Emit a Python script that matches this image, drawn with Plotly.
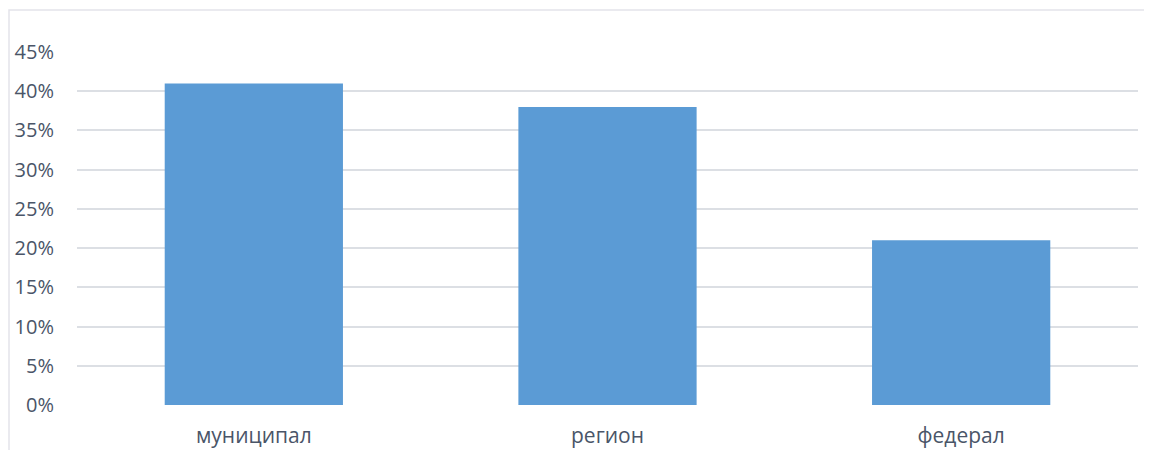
import plotly.graph_objects as go

categories = ["муниципал", "регион", "федерал"]
values = [0.41, 0.38, 0.21]
tick_vals = [0, 0.05, 0.10, 0.15, 0.20, 0.25, 0.30, 0.35, 0.40, 0.45]
tick_text = ["0%", "5%", "10%", "15%", "20%", "25%", "30%", "35%", "40%", "45%"]

# the page body has a default 8px margin, so the figure is drawn 8px in
W, H = 1144, 442
ml, mr, mt, mb = 69, 14, 44, 45
pw = W - ml - mr
ph = H - mt - mb

fig = go.Figure()
fig.add_trace(go.Bar(
    x=categories, y=values,
    marker=dict(color="#5b9bd5", line=dict(width=0)),
    hoverinfo="x+y",
))

fig.update_layout(
    width=W, height=H,
    margin=dict(l=ml, r=mr, t=mt, b=mb, autoexpand=False),
    paper_bgcolor="white", plot_bgcolor="white",
    bargap=0.496,
    showlegend=False,
    font=dict(family="Open Sans, Noto Sans, sans-serif", size=20, color="#4a5568"),
    xaxis=dict(
        showgrid=False, showline=False, zeroline=False, automargin=False,
        ticks="", ticklabelstandoff=16,
        tickfont=dict(size=21, color="#4a5568"),
    ),
    yaxis=dict(
        range=[0, 0.45], automargin=False,
        tickvals=tick_vals, ticktext=tick_text,
        showgrid=True, gridcolor="#dcdfe4", gridwidth=1.5,
        zeroline=False, showline=False,
        ticks="", ticklabelstandoff=22,
        tickfont=dict(size=20, color="#4a5568"),
    ),
    shapes=[dict(
        type="rect", xref="paper", yref="paper",
        x0=(1 - ml) / pw, x1=(W + 20 - ml) / pw,
        y0=-(mb + 20) / ph, y1=(H - mb - 2) / ph,
        line=dict(color="#e3e3ea", width=1.5),
        fillcolor="rgba(0,0,0,0)", layer="below",
    )],
)

fig.write_html("out.html")
